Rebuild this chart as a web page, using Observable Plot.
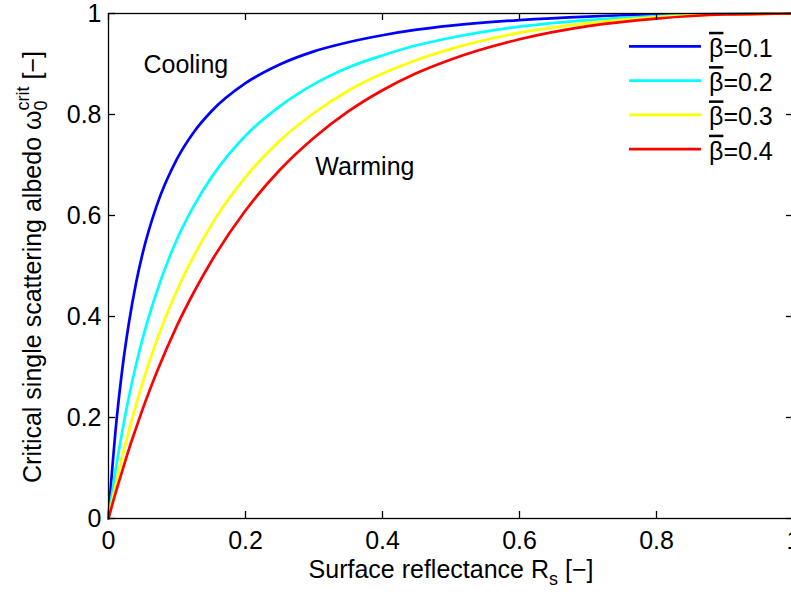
<!DOCTYPE html>
<html><head><meta charset="utf-8">
<script src="https://cdn.jsdelivr.net/npm/d3@7"></script>
<script src="https://cdn.jsdelivr.net/npm/@observablehq/plot@0.6"></script>
<style>body{margin:0;background:#fff} svg{display:block}</style>
</head><body><div id="chart"></div>
<script>
// Surface reflectance sample points
const rs = [0, 0.005, 0.01, 0.02, 0.03, 0.04, 0.05, 0.07, 0.1, 0.125, 0.15, 0.2, 0.25, 0.3, 0.35, 0.4, 0.45, 0.5, 0.6, 0.7, 0.8, 0.9, 1.0];
// Critical single scattering albedo read for each beta
const beta01 = [0, 0.092, 0.170, 0.294, 0.389, 0.465, 0.526, 0.618, 0.712, 0.766, 0.806, 0.862, 0.899, 0.925, 0.943, 0.957, 0.968, 0.976, 0.987, 0.994, 0.998, 0.999, 1];
const beta02 = [0, 0.048, 0.093, 0.172, 0.242, 0.303, 0.357, 0.447, 0.553, 0.620, 0.675, 0.758, 0.816, 0.860, 0.893, 0.917, 0.937, 0.952, 0.974, 0.987, 0.995, 0.999, 1];
const beta03 = [0, 0.033, 0.064, 0.122, 0.175, 0.224, 0.270, 0.351, 0.452, 0.521, 0.581, 0.676, 0.748, 0.803, 0.847, 0.881, 0.908, 0.930, 0.962, 0.981, 0.993, 0.998, 1];
const beta04 = [0, 0.025, 0.049, 0.094, 0.138, 0.178, 0.217, 0.288, 0.382, 0.449, 0.509, 0.610, 0.690, 0.754, 0.806, 0.848, 0.882, 0.909, 0.949, 0.975, 0.990, 0.998, 1];
const betaLabels = ["0.1", "0.2", "0.3", "0.4"];
const lineColors = ["#0000ff", "#00ffff", "#ffff00", "#ff0000"];
const xTicks = [0, 0.2, 0.4, 0.6, 0.8, 1];
const yTicks = [0, 0.2, 0.4, 0.6, 0.8, 1];
const annotations = [
  {text: "Cooling", x: 0.051, y: 0.898},
  {text: "Warming", x: 0.302, y: 0.696}
];

const series = [beta01, beta02, beta03, beta04];
const rows = series.flatMap((vals, i) => vals.map((v, j) => ({rs: rs[j], w: v, beta: betaLabels[i]})));

const FONT = "'Liberation Sans', Arial, Helvetica, sans-serif";
const FS = 25;
const fmt = d => String(d);
const TK = 7;
const W = 791, H = 594, ML = 108, MR = -2, MT = 13, MB = 76;
const frameW = W - ML - MR, frameH = H - MT - MB;

const plot = Plot.plot({
  width: W, height: H,
  marginLeft: ML, marginRight: MR, marginTop: MT, marginBottom: MB,
  style: {fontFamily: FONT, fontSize: FS + "px", background: "#fff", color: "#000", overflow: "hidden"},
  x: {domain: [0, 1]},
  y: {domain: [0, 1]},
  color: {domain: betaLabels, range: lineColors},
  marks: [
    Plot.line(rows, {x: "rs", y: "w", z: "beta", stroke: "beta", strokeWidth: 2.7, curve: "monotone-x"}),
    Plot.frame({stroke: "#000", strokeWidth: 1.3}),
    // inward ticks on all four sides
    Plot.tickX(xTicks, {x: d => d, insetTop: frameH - TK, stroke: "#000", strokeWidth: 1.3}),
    Plot.tickX(xTicks, {x: d => d, insetBottom: frameH - TK, stroke: "#000", strokeWidth: 1.3}),
    Plot.tickY(yTicks, {y: d => d, insetRight: frameW - TK, stroke: "#000", strokeWidth: 1.3}),
    Plot.tickY(yTicks, {y: d => d, insetLeft: frameW - TK, stroke: "#000", strokeWidth: 1.3}),
    Plot.axisX(xTicks, {anchor: "bottom", tickSize: 0, tickPadding: 13, label: null, tickFormat: fmt, fill: "#000"}),
    Plot.axisY(yTicks, {anchor: "left", tickSize: 0, tickPadding: 7, label: null, tickFormat: fmt, fill: "#000"}),
    Plot.text(annotations, {x: "x", y: "y", text: "text", textAnchor: "start", lineAnchor: "middle", fill: "#000", fontSize: FS})
  ]
});
document.getElementById("chart").appendChild(plot);

const svg = d3.select(plot);
// x-axis label
const xl = svg.append("text")
  .attr("x", 451).attr("y", 578)
  .attr("text-anchor", "middle")
  .attr("font-family", FONT).attr("font-size", FS).attr("fill", "#000");
xl.append("tspan").text("Surface reflectance R");
xl.append("tspan").attr("dy", 7).attr("font-size", 18).text("s");
xl.append("tspan").attr("dy", -7).text(" [\u2212]");

// y-axis label
const yl = svg.append("text")
  .attr("transform", "translate(41,267) rotate(-90)")
  .attr("text-anchor", "middle")
  .attr("font-family", FONT).attr("font-size", FS).attr("fill", "#000");
yl.append("tspan").text("Critical single scattering albedo \u03c9");
yl.append("tspan").attr("dy", 6).attr("font-size", 18).text("0");
yl.append("tspan").attr("dx", -10).attr("dy", -18).attr("font-size", 18).text("crit");
yl.append("tspan").attr("dy", 12).text(" [\u2212]");

// legend
const lg = svg.append("g").attr("font-family", FONT).attr("font-size", FS).attr("text-anchor", "start");
betaLabels.forEach((b, i) => {
  const y = 46.3 + i * 34.3;
  lg.append("line").attr("x1", 629).attr("x2", 701).attr("y1", y).attr("y2", y)
    .attr("stroke", lineColors[i]).attr("stroke-width", 2.7);
  const t = lg.append("text").attr("x", 709).attr("y", y + 10.5).attr("fill", "#000");
  t.append("tspan").style("text-decoration", "overline").text("\u03b2");
  t.append("tspan").text("=" + b);
});
</script>
</body></html>
